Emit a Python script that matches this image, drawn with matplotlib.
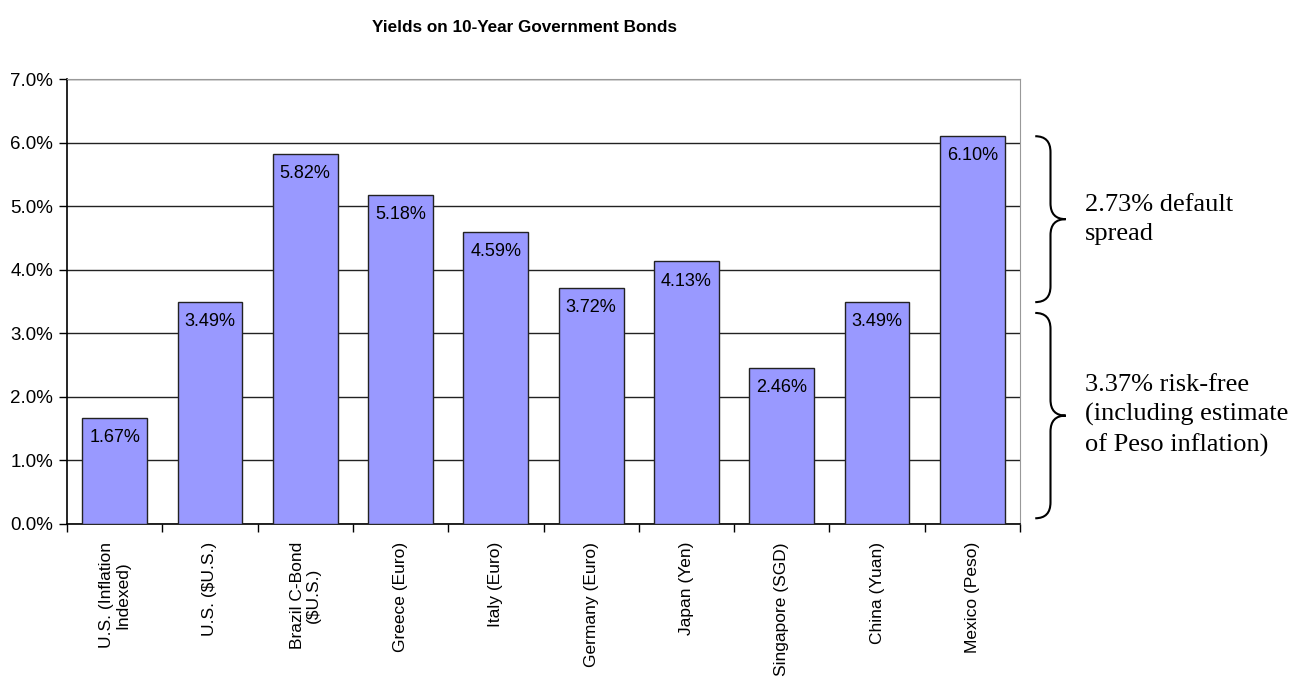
import numpy as np
import matplotlib.pyplot as plt
from matplotlib.path import Path
from matplotlib.patches import PathPatch
from matplotlib.transforms import blended_transform_factory

# datos
categorias = ['U.S. (Inflation\nIndexed)', 'U.S. ($U.S.)', 'Brazil C-Bond\n($U.S.)',
              'Greece (Euro)', 'Italy (Euro)', 'Germany (Euro)', 'Japan (Yen)',
              'Singapore (SGD)', 'China (Yuan)', 'Mexico (Peso)']
rendimientos = [1.67, 3.49, 5.82, 5.18, 4.59, 3.72, 4.13, 2.46, 3.49, 6.10]
etiquetas_y = ['0.0%', '1.0%', '2.0%', '3.0%', '4.0%', '5.0%', '6.0%', '7.0%']
llaves = [(6.10, 3.49, '2.73% default\nspread'),
          (3.32, 0.09, '3.37% risk-free\n(including estimate\nof Peso inflation)')]

plt.rcParams['font.family'] = ['Liberation Sans', 'DejaVu Sans']

fig = plt.figure(figsize=(13.08, 6.83), dpi=100)
ax = fig.add_axes([67/1308, 1 - 524/683, 953/1308, 445/683])

x = np.arange(len(categorias))
ax.bar(x, rendimientos, width=0.68, color='#9999FF', edgecolor='#222222', linewidth=1, zorder=3)

for xi, v in zip(x, rendimientos):
    ax.annotate('%.2f%%' % v, (xi, v), xytext=(0, -8), textcoords='offset points',
                ha='center', va='top', fontsize=13, zorder=4)

ax.set_xlim(-0.5, len(categorias) - 0.5)
ax.set_ylim(0, 7)
ax.set_yticks(range(len(etiquetas_y)))
ax.set_yticklabels(etiquetas_y, fontsize=13.5)
ax.yaxis.grid(True, color='#222222', linewidth=1, zorder=0)
ax.set_xticks(x)
ax.set_xticklabels(categorias, rotation=90, fontsize=12.5, va='top', ha='center',
                   multialignment='center', linespacing=1.05)
ax.set_xticks(np.arange(-0.5, len(categorias)), minor=True)
ax.tick_params(axis='x', which='major', length=0, pad=13)
ax.tick_params(axis='x', which='minor', length=6, width=1)
ax.tick_params(axis='y', length=6, width=1, pad=4)
ax.spines['top'].set_color('#999999')
ax.spines['right'].set_color('#999999')
for s in ['left', 'bottom']:
    ax.spines[s].set_linewidth(1.2)

fig.text(524/1308, 1 - 27/683, 'Yields on 10-Year Government Bonds',
         ha='center', va='center', fontsize=12.3, fontweight='bold')

# llaves a la derecha
tr = blended_transform_factory(ax.transAxes, ax.transData)
x0, x1, x2 = 1.016, 1.032, 1.048
r = 0.25
for top, bot, texto in llaves:
    mid = (top + bot) / 2
    verts = [(x0, top), (x1, top), (x1, top - r), (x1, mid + r), (x1, mid), (x2, mid),
             (x2, mid), (x1, mid), (x1, mid - r), (x1, bot + r), (x1, bot), (x0, bot)]
    codes = [Path.MOVETO, Path.CURVE3, Path.CURVE3, Path.LINETO, Path.CURVE3, Path.CURVE3,
             Path.MOVETO, Path.CURVE3, Path.CURVE3, Path.LINETO, Path.CURVE3, Path.CURVE3]
    ax.add_patch(PathPatch(Path(verts, codes), transform=tr, fill=False,
                           edgecolor='black', linewidth=1.5, clip_on=False))
    ax.text(1.068, mid, texto, transform=tr, ha='left', va='center',
            fontsize=19, family='Liberation Serif', linespacing=1.4)

fig.savefig('out.png', dpi=100)
